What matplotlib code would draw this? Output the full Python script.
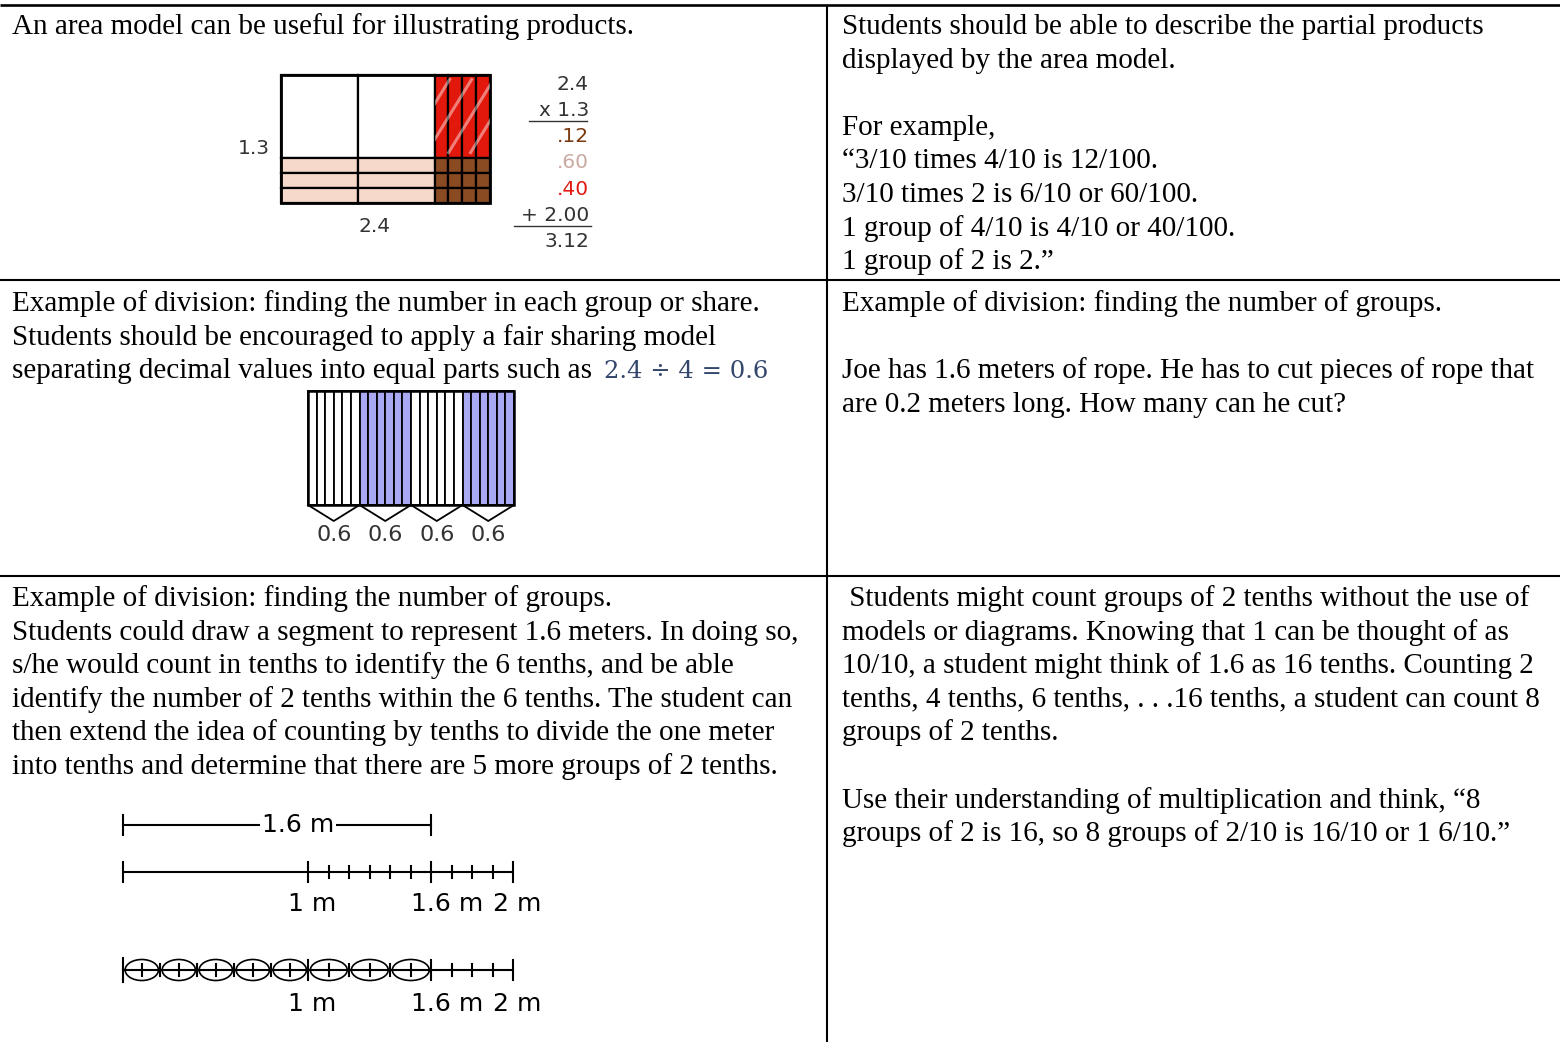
import numpy as np
import matplotlib.pyplot as plt
from matplotlib.patches import Rectangle, Ellipse

W, H = 1560, 1042
BODY = 'Liberation Serif'
DIAG = 'DejaVu Sans'

# ---- cell texts ----
row1_left = ["An area model can be useful for illustrating products."]
row1_right = ["Students should be able to describe the partial products",
              "displayed by the area model.",
              "",
              "For example,",
              "\u201c3/10 times 4/10 is 12/100.",
              "3/10 times 2 is 6/10 or 60/100.",
              "1 group of 4/10 is 4/10 or 40/100.",
              "1 group of 2 is 2.\u201d"]
row2_left = ["Example of division: finding the number in each group or share.",
             "Students should be encouraged to apply a fair sharing model",
             "separating decimal values into equal parts such as"]
row2_math = "2.4 \u00f7 4 = 0.6"
row2_right = ["Example of division: finding the number of groups.",
              "",
              "Joe has 1.6 meters of rope. He has to cut pieces of rope that",
              "are 0.2 meters long. How many can he cut?"]
row3_left = ["Example of division: finding the number of groups.",
             "Students could draw a segment to represent 1.6 meters. In doing so,",
             "s/he would count in tenths to identify the 6 tenths, and be able",
             "identify the number of 2 tenths within the 6 tenths. The student can",
             "then extend the idea of counting by tenths to divide the one meter",
             "into tenths and determine that there are 5 more groups of 2 tenths."]
row3_right = [" Students might count groups of 2 tenths without the use of",
              "models or diagrams. Knowing that 1 can be thought of as",
              "10/10, a student might think of 1.6 as 16 tenths. Counting 2",
              "tenths, 4 tenths, 6 tenths, . . .16 tenths, a student can count 8",
              "groups of 2 tenths.",
              "",
              "Use their understanding of multiplication and think, \u201c8",
              "groups of 2 is 16, so 8 groups of 2/10 is 16/10 or 1 6/10.\u201d"]

# ---- area model 2.4 x 1.3 ----
col_parts = [1, 1, 0.1, 0.1, 0.1, 0.1]       # 2.4 across
row_parts = [1, 0.1, 0.1, 0.1]               # 1.3 down
product_lines = ["2.4", "x 1.3", ".12", ".60", ".40", "+ 2.00", "3.12"]
product_colors = ["#333333", "#333333", "#7a3a10", "#c9aaa2", "#e01a10", "#333333", "#333333"]

# ---- fair sharing 2.4 / 4 ----
n_groups = 4
strips_per_group = 6
group_colors = ["white", "#a9a9f3", "white", "#a9a9f3"]
share_labels = ["0.6", "0.6", "0.6", "0.6"]

# ---- number lines ----
major_ticks = [0, 1, 1.6, 2]
tenths = [round(0.1 * i, 1) for i in range(21)]
nl_labels = ["1 m", "1.6 m", "2 m"]
nl_label_vals = [1, 1.6, 2]
group_centers = [0.1, 0.3, 0.5, 0.7, 0.9, 1.1, 1.3, 1.5]   # 8 groups of 2 tenths

fig = plt.figure(figsize=(W / 100, H / 100), dpi=100)
ax = fig.add_axes([0, 0, 1, 1])
ax.set_xlim(0, W)
ax.set_ylim(H, 0)
ax.axis('off')

# table rules
rule = dict(color='black', lw=1.5, solid_capstyle='butt')
ax.plot([0, W], [5, 5], color='black', lw=1.9, solid_capstyle='butt')
ax.plot([0, W], [280, 280], **rule)
ax.plot([0, W], [576, 576], **rule)
ax.plot([826.5, 826.5], [5, H], **rule)

line_h = 33.6
body_size = 21


def put_lines(x, y0, lines):
    for i, s in enumerate(lines):
        ax.text(x, y0 + i * line_h, s, fontsize=body_size, family=BODY,
                va='baseline', ha='left', color='black')


put_lines(12, 34, row1_left)
put_lines(842, 34, row1_right)
put_lines(12, 311, row2_left)
put_lines(842, 311, row2_right)
put_lines(12, 606, row3_left)
put_lines(842, 606, row3_right)
ax.text(604, 311 + 2 * line_h, row2_math, fontsize=17.5, family='DejaVu Serif',
        va='baseline', ha='left', color='#34466b')

# area model
x0, y0 = 280.6, 74.5
col_w = np.array(col_parts) * 77.0
col_w[2:] = 13.75
row_h = np.array(row_parts) * 83.0
row_h[1:] = 15.2
xs = x0 + np.concatenate([[0], np.cumsum(col_w)])
ys = y0 + np.concatenate([[0], np.cumsum(row_h)])
for i, cw in enumerate(col_parts):
    for j, rh in enumerate(row_parts):
        if cw == 1 and rh == 1:
            fc = 'white'
        elif cw == 1:
            fc = '#f6d9cb'
        elif rh == 1:
            fc = '#e3180c'
        else:
            fc = '#8a4a22'
        ax.add_patch(Rectangle((xs[i], ys[j]), xs[i + 1] - xs[i], ys[j + 1] - ys[j],
                               facecolor=fc, edgecolor='black', lw=1.6))
# glossy streaks on the tenths column
red_clip = Rectangle((xs[2], ys[0]), xs[-1] - xs[2], ys[1] - ys[0], transform=ax.transData)
for k in range(5):
    sx = xs[2] - 30 + k * 22
    ln, = ax.plot([sx, sx + 45], [ys[1] - 5, ys[0] + 5], color='white', lw=2.2, alpha=0.45)
    ln.set_clip_path(red_clip)
ax.add_patch(Rectangle((xs[0], ys[0]), xs[-1] - xs[0], ys[-1] - ys[0],
                       facecolor='none', edgecolor='black', lw=2.0))
ax.text(254, 148, "1.3", fontsize=14.5, family=DIAG, ha='center', va='center', color='#333333')
ax.text(375, 226, "2.4", fontsize=14.5, family=DIAG, ha='center', va='center', color='#333333')
for k, (s, c) in enumerate(zip(product_lines, product_colors)):
    ax.text(589, 84 + k * 26.3, s, fontsize=14.5, family=DIAG, ha='right', va='center', color=c)
ax.plot([529, 587], [121, 121], color='#333333', lw=1.0)
ax.plot([514, 591], [226, 226], color='#333333', lw=1.0)

# fair sharing bar
bl, br, bt, bb = 308, 514, 391, 505
n_strips = n_groups * strips_per_group
sw = (br - bl) / n_strips
for s in range(n_strips):
    g = s // strips_per_group
    ax.add_patch(Rectangle((bl + s * sw, bt), sw, bb - bt, facecolor=group_colors[g],
                           edgecolor='black', lw=1.3))
ax.add_patch(Rectangle((bl, bt), br - bl, bb - bt, facecolor='none', edgecolor='black', lw=1.8))
gw = (br - bl) / n_groups
for g in range(n_groups):
    gl = bl + g * gw
    ax.plot([gl, gl + gw / 2, gl + gw], [bb, bb + 16, bb], color='black', lw=1.3)
    ax.text(gl + gw / 2, 535, share_labels[g], fontsize=16, family=DIAG,
            ha='center', va='center', color='#333333')

# number lines
nl_vals = [0, 1, 2]
nl_px = [123.3, 308.3, 513.3]


def px(v):
    return np.interp(v, nl_vals, nl_px)


nl_lw = 1.5
nl_size = 18
# bracket for 1.6 m
yb = 825
ax.plot([px(0), px(1.6)], [yb, yb], color='black', lw=nl_lw)
for v in [0, 1.6]:
    ax.plot([px(v), px(v)], [yb - 10, yb + 10], color='black', lw=nl_lw)
ax.text(298, yb, "1.6 m", fontsize=nl_size, family=DIAG, ha='center', va='center',
        bbox=dict(facecolor='white', edgecolor='none', pad=1))

# line with tenths between 1 and 2
y2 = 871.7
ax.plot([px(0), px(2)], [y2, y2], color='black', lw=nl_lw)
for v in tenths:
    if v in major_ticks:
        ax.plot([px(v), px(v)], [y2 - 10, y2 + 10], color='black', lw=nl_lw)
    elif v > 1:
        ax.plot([px(v), px(v)], [y2 - 6, y2 + 6], color='black', lw=nl_lw)
for s, v in zip(nl_labels, nl_label_vals):
    ax.text(px(v) - 20, 904, s, fontsize=nl_size, family=DIAG, ha='left', va='center')

# line with circled groups of 2 tenths
y3 = 970
ax.plot([px(0), px(2)], [y3, y3], color='black', lw=nl_lw)
for v in tenths:
    if v in major_ticks:
        h = 12 if v == 0 else 10
        ax.plot([px(v), px(v)], [y3 - h, y3 + h], color='black', lw=nl_lw)
    else:
        ax.plot([px(v), px(v)], [y3 - 6, y3 + 6], color='black', lw=nl_lw)
for c in group_centers:
    w = (px(c + 0.1) - px(c - 0.1)) * 0.9
    ax.add_patch(Ellipse((px(c), y3), w, 21, facecolor='none', edgecolor='black', lw=1.2))
for s, v in zip(nl_labels, nl_label_vals):
    ax.text(px(v) - 20, 1004, s, fontsize=nl_size, family=DIAG, ha='left', va='center')

fig.savefig('out.png', dpi=100)
